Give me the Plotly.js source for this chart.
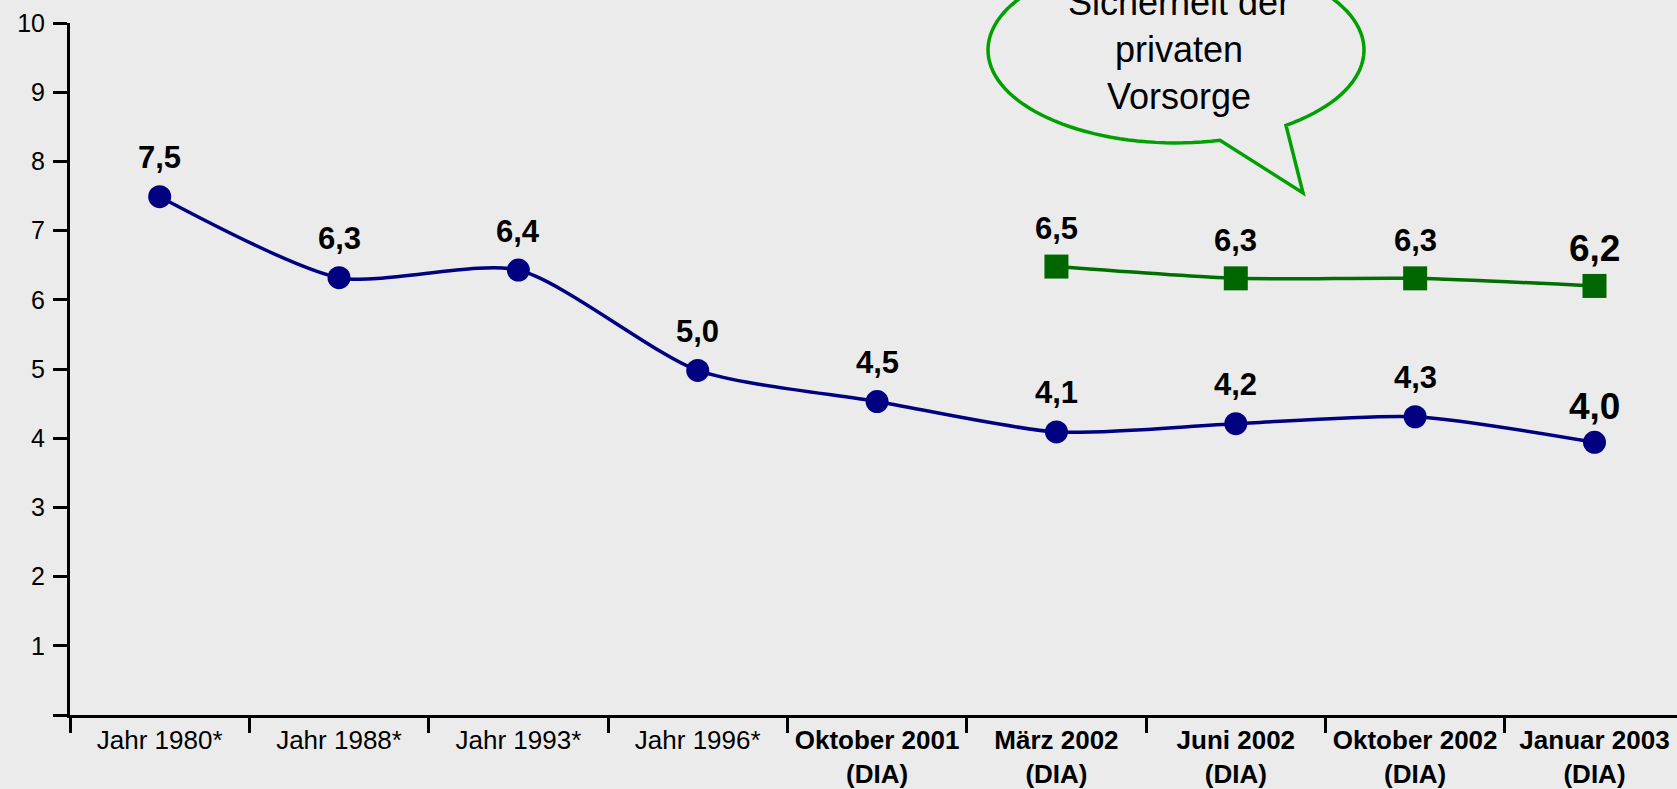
<!DOCTYPE html>
<html>
<head>
<meta charset="utf-8">
<script src="https://cdn.plot.ly/plotly-3.0.1.min.js"></script>
<style>
html,body{margin:0;padding:0;background:#ebebeb;}
#chart{width:1677px;height:789px;}
</style>
</head>
<body>
<div id="chart"></div>
<script>
// ---- data ----
const categories = ["Jahr 1980*", "Jahr 1988*", "Jahr 1993*", "Jahr 1996*", "Oktober 2001 (DIA)", "März 2002 (DIA)", "Juni 2002 (DIA)", "Oktober 2002 (DIA)", "Januar 2003 (DIA)"];
const tickLabels = ["Jahr 1980*", "Jahr 1988*", "Jahr 1993*", "Jahr 1996*", "<b>Oktober 2001<br>(DIA)</b>", "<b>März 2002<br>(DIA)</b>", "<b>Juni 2002<br>(DIA)</b>", "<b>Oktober 2002<br>(DIA)</b>", "<b>Januar 2003<br>(DIA)</b>"];
const blueValues = [7.49, 6.32, 6.43, 4.98, 4.53, 4.09, 4.21, 4.31, 3.94];
const blueLabels = ["7,5", "6,3", "6,4", "5,0", "4,5", "4,1", "4,2", "4,3", "4,0"];
const greenValues = [null, null, null, null, null, 6.48, 6.31, 6.31, 6.20];
const greenLabels = ["", "", "", "", "", "6,5", "6,3", "6,3", "6,2"];
const yTickVals = [0, 1, 2, 3, 4, 5, 6, 7, 8, 9, 10];
const yTickText = ["", "1", "2", "3", "4", "5", "6", "7", "8", "9", "10"];
const bubbleLines = ["Sicherheit der", "privaten", "Vorsorge"];

// ---- layout geometry ----
const W = 1677, H = 789;
const M = {l: 70, r: 0, t: 23, b: 73.5};
const pw = W - M.l - M.r, ph = H - M.t - M.b;
const px2x = px => (px - M.l) / pw;
const py2y = py => (H - M.b - py) / ph;

const FONT = "Liberation Sans, Arial, Helvetica, sans-serif";
const BLUE = "#000080";
const GREEN = "#006600";
const BG = "#ebebeb";

const traces = [
  {
    x: categories, y: blueValues, type: "scatter", mode: "lines+markers",
    line: {color: BLUE, width: 3.5, shape: "spline", smoothing: 0.7},
    marker: {color: BLUE, size: 23, symbol: "circle"},
    cliponaxis: false, hoverinfo: "skip"
  },
  {
    x: categories, y: greenValues, type: "scatter", mode: "lines+markers",
    line: {color: "#006e00", width: 3.5, shape: "spline", smoothing: 0.7},
    marker: {color: GREEN, size: 24, symbol: "square"},
    connectgaps: false, cliponaxis: false, hoverinfo: "skip"
  }
];

const annotations = [];
const lastIdx = categories.length - 1;
blueValues.forEach((v, i) => {
  annotations.push({
    x: categories[i], y: v, xref: "x", yref: "y", text: "<b>" + blueLabels[i] + "</b>",
    showarrow: false, yanchor: "middle", yshift: i === lastIdx ? 36 : 39,
    font: {family: FONT, size: i === lastIdx ? 37 : 31, color: "#000"}
  });
});
greenValues.forEach((v, i) => {
  if (v === null) return;
  annotations.push({
    x: categories[i], y: v, xref: "x", yref: "y", text: "<b>" + greenLabels[i] + "</b>",
    showarrow: false, yanchor: "middle", yshift: i === lastIdx ? 37 : 38,
    font: {family: FONT, size: i === lastIdx ? 37 : 31, color: "#000"}
  });
});

// speech bubble (decoration)
const cx = 1176, cy = 50, rx = 188, ry = 93;
const tailStart = 1220, tailTip = [1303, 193], tailEnd = 1286;
function ellY(px){ const d = (px - cx) / rx; return cy + ry * Math.sqrt(Math.max(0, 1 - d * d)); }
let pts = [];
const a0 = Math.atan2((ellY(tailEnd) - cy) / ry, (tailEnd - cx) / rx);
const a1 = Math.atan2((ellY(tailStart) - cy) / ry, (tailStart - cx) / rx) - 2 * Math.PI;
const N = 120;
for (let k = 0; k <= N; k++) {
  const a = a0 + (a1 - a0) * k / N;
  pts.push([cx + rx * Math.cos(a), cy + ry * Math.sin(a)]);
}
pts.push(tailTip);
let path = pts.map((p, k) => (k === 0 ? "M" : "L") + px2x(p[0]).toFixed(5) + "," + py2y(p[1]).toFixed(5)).join(" ") + " Z";

const shapes = [{
  type: "path", xref: "paper", yref: "paper", path: path,
  line: {color: "#00a000", width: 3.5}, fillcolor: BG, layer: "above"
}];

annotations.push({
  xref: "paper", yref: "paper", x: px2x(1179), y: py2y(50),
  text: bubbleLines.join("<br>"), showarrow: false,
  xanchor: "center", yanchor: "middle", align: "center",
  font: {family: FONT, size: 36, color: "#000"}
});

const layout = {
  width: W, height: H,
  margin: M,
  paper_bgcolor: BG, plot_bgcolor: BG,
  showlegend: false,
  font: {family: FONT, color: "#000"},
  xaxis: {
    type: "category", categoryorder: "array", categoryarray: categories,
    tickmode: "array", tickvals: categories, ticktext: tickLabels,
    range: [-0.5, 8.46], tickson: "boundaries",
    ticks: "outside", ticklen: 15, tickwidth: 3, tickcolor: "#000",
    showline: true, linewidth: 3, linecolor: "#000",
    showgrid: false, zeroline: false, fixedrange: true,
    ticklabelstandoff: 0,
    tickfont: {family: FONT, size: 26, color: "#000"}
  },
  yaxis: {
    range: [0, 10], tickmode: "array", tickvals: yTickVals, ticktext: yTickText,
    ticks: "outside", ticklen: 14, tickwidth: 3, tickcolor: "#000",
    showline: true, linewidth: 3, linecolor: "#000",
    showgrid: false, zeroline: false, fixedrange: true,
    ticklabelstandoff: 3,
    tickfont: {family: FONT, size: 25, color: "#000"}
  },
  annotations: annotations,
  shapes: shapes
};

Plotly.newPlot("chart", traces, layout, {displayModeBar: false, staticPlot: true});
</script>
</body>
</html>
